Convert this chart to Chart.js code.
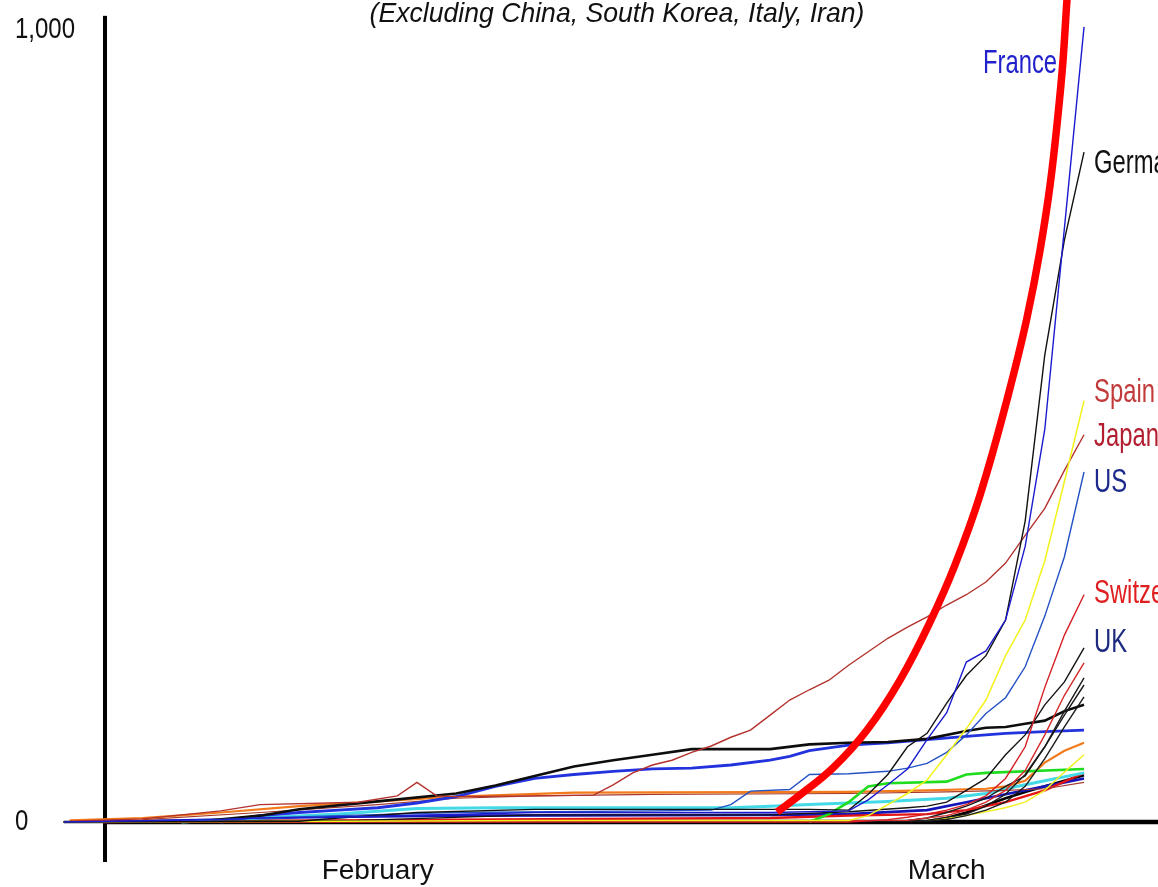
<!DOCTYPE html>
<html><head><meta charset="utf-8">
<script src="https://cdn.jsdelivr.net/npm/chart.js@4.4.1/dist/chart.umd.min.js"></script>
<style>html,body{margin:0;padding:0;background:#fff;}canvas{display:block;}</style>
</head><body>
<canvas id="c" width="1158" height="887"></canvas>
<script>
// x values are days counted from 16 Jan 2020 (day 0)
const xTickDays = [16, 45];
const xTickLabels = ['February', 'March'];
const yTickValues = [0, 1000];
const yTickLabels = ['0', '1,000'];
const chartTitle = '(Excluding China, South Korea, Italy, Iran)';

// series: [day, confirmed cases]
const france = [[0,0],[8,3],[10,5],[14,6],[24,12],[36,12],[38,13],[40,14],[41,28],[42,47],[43,67],[44,104],[45,138],[46,202],[47,216],[48,255],[49,348],[50,496],[51,750],[52,1004]];
const germany = [[0,0],[12,1],[14,5],[18,12],[24,16],[38,16],[40,15],[41,35],[42,60],[43,95],[44,112],[45,150],[46,185],[47,210],[48,255],[49,380],[50,590],[51,735],[52,846]];
const spain = [[0,0],[14,1],[24,2],[40,2],[41,8],[42,22],[43,36],[44,53],[45,85],[46,118],[47,154],[48,210],[49,255],[50,330],[51,430],[52,532]];
const japan = [[0.3,1],[4,4],[8,14],[10,22],[15,25],[17,33],[18,50],[19,33],[20,32],[24,33],[27,34],[28,47],[29,62],[30,72],[31,78],[32,88],[33,96],[34,107],[35,116],[36,135],[37,154],[38,167],[39,179],[40,198],[41,215],[42,232],[43,246],[44,259],[45,274],[46,287],[47,303],[48,327],[49,362],[50,396],[51,444],[52,489]];
const us = [[0,0],[6,1],[10,5],[14,8],[20,12],[30,14],[33,15],[34,22],[35,39],[37,41],[38,60],[40,61],[42,64],[43,68],[44,74],[45,88],[46,110],[47,137],[48,157],[49,196],[50,260],[51,335],[52,442]];
const switzerland = [[0,0],[40,0],[42,3],[43,6],[44,10],[45,15],[46,22],[47,33],[48,55],[49,95],[50,170],[51,236],[52,287]];
const uk = [[0,0],[15,2],[24,9],[36,9],[40,13],[43,18],[44,20],[45,25],[46,40],[47,55],[48,85],[49,110],[50,148],[51,177],[52,220]];
const singapore = [[7,1],[10,8],[12,16],[16,26],[20,36],[22,46],[24,58],[26,70],[28,78],[30,85],[32,92],[36,92],[38,98],[40,100],[42,101],[44,105],[46,115],[47,119],[48,120],[49,124],[50,128],[51,140],[52,148]];
const hongKong = [[8,0],[10,8],[12,12],[14,15],[16,18],[18,24],[20,32],[22,45],[24,55],[26,60],[28,64],[30,67],[32,68],[34,72],[36,78],[37,83],[38,90],[40,97],[42,100],[44,104],[46,108],[48,112],[50,114],[52,116]];
const greenSeries = [[38,0],[39,10],[40,25],[41,45],[42,49],[45,51],[46,60],[47,62],[52,67]];
const cyanSeries = [[6,0],[10,5],[14,10],[18,17],[22,18],[34,18],[36,20],[38,22],[42,26],[45,30],[47,36],[48,42],[50,52],[52,62]];
const orangeSeries = [[0.3,2],[4,5],[8,12],[12,20],[20,32],[26,37],[40,38],[44,40],[47,42],[48,45],[49,52],[50,75],[51,90],[52,100]];
const brownSeries = [[4,3],[10,12],[16,22],[20,30],[24,33],[30,35],[40,36],[45,38],[48,40],[50,42],[52,50]];
const black2 = [[0,0],[44,2],[46,10],[47,20],[48,35],[49,60],[50,95],[51,140],[52,182]];
const black3 = [[0,0],[43,2],[44,5],[45,12],[46,20],[47,30],[48,45],[49,58],[50,95],[51,135],[52,173]];
const black4 = [[0,0],[44,1],[45,3],[46,8],[47,15],[48,25],[49,45],[50,80],[51,120],[52,158]];
const red2 = [[0,0],[43,2],[45,8],[46,15],[47,25],[48,40],[49,65],[50,110],[51,160],[52,201]];
const yellow2 = [[0,0],[44,2],[46,8],[48,18],[49,25],[50,40],[51,63],[52,85]];
const redBottom = [[2,0],[20,3],[36,5],[40,8],[44,10],[46,15],[48,25],[50,40],[52,62]];
const blackBottom = [[0,0],[44,1],[45,5],[46,12],[47,21],[48,30],[49,38],[50,45],[51,52],[52,59]];
const blue2 = [[2,0],[8,3],[12,6],[20,8],[36,9],[40,10],[44,15],[46,25],[48,35],[50,45],[52,55]];
const trendCurve = [[36.35,12.6],[37.52,34.1],[39.2,68.2],[40.94,116.2],[42.62,179.3],[44.15,252.5],[45.42,324.5],[46.7,412.9],[48.07,532.8],[49.09,636.4],[49.76,722.2],[50.27,804.3],[50.62,880.1],[50.93,962.1],[51.13,1037.9],[51.28,1088]];

// styles (kept apart from the values)
const seriesTable = [
  {name:'Trend', data:trendCurve, color:'#ff0000', width:7.5, smooth:true},
  {name:'France', data:france, color:'#1b1bd0', width:1.4},
  {name:'Germany', data:germany, color:'#111111', width:1.4},
  {name:'Spain', data:spain, color:'#f2f21c', width:1.5},
  {name:'Japan', data:japan, color:'#b3322e', width:1.4},
  {name:'US', data:us, color:'#2452c4', width:1.4},
  {name:'Switzerland', data:switzerland, color:'#d61e24', width:1.4},
  {name:'UK', data:uk, color:'#141414', width:1.4},
  {name:'Other 1', data:red2, color:'#d42a2a', width:1.4},
  {name:'Other 2', data:black2, color:'#1a1a1a', width:1.4},
  {name:'Other 3', data:black3, color:'#1a1a1a', width:1.4},
  {name:'Other 4', data:black4, color:'#1a1a1a', width:1.4},
  {name:'Other 5', data:yellow2, color:'#f0f020', width:1.4},
  {name:'Singapore', data:singapore, color:'#0d0d0d', width:2.6},
  {name:'Hong Kong', data:hongKong, color:'#2233dd', width:2.8},
  {name:'Other 6', data:greenSeries, color:'#1fdc1f', width:2.6},
  {name:'Other 7', data:orangeSeries, color:'#f27a1a', width:2.2},
  {name:'Other 8', data:brownSeries, color:'#a53a2c', width:1.2},
  {name:'Other 9', data:cyanSeries, color:'#44d9e6', width:3},
  {name:'Other 10', data:redBottom, color:'#e31414', width:2.4},
  {name:'Other 11', data:blue2, color:'#1414b8', width:2.6},
  {name:'Other 12', data:blackBottom, color:'#000000', width:2.6}
];

const labelStyle = {
  France: {color:'#2222cc', dx:-101, dy:46},
  Germany: {color:'#111111', dx:10, dy:21},
  Spain: {color:'#c23a3a', dx:10, dy:1},
  Japan: {color:'#b21e30', dx:10, dy:11},
  US: {color:'#1c2a8c', dx:10, dy:20},
  Switzerland: {color:'#e02020', dx:10, dy:8},
  UK: {color:'#1c2a80', dx:10, dy:4}
};
const layoutStyle = {xMin: 2.1, xMax: 55.77, yMax: 1038, axisTopValue: 1018, axisBottomExtra: 40, yLabelX: 15};

const decor = {
  id: 'decor',
  beforeDatasetsDraw(chart) {
    const ctx = chart.ctx, ys = chart.scales.y;
    const ax = chart.chartArea.left;
    const y0 = ys.getPixelForValue(0);
    const yt = ys.getPixelForValue(layoutStyle.axisTopValue);
    ctx.save();
    ctx.fillStyle = '#000';
    ctx.fillRect(ax - 2, yt, 4, y0 + layoutStyle.axisBottomExtra - yt);
    ctx.fillRect(ax - 2, y0 - 2.25, chart.width - ax + 2, 4.5);
    // y tick labels (condensed)
    ctx.font = '30px "Liberation Sans", Arial, sans-serif';
    ctx.fillStyle = '#111';
    ctx.textAlign = 'left';
    ctx.textBaseline = 'middle';
    yTickValues.forEach((v, i) => {
      ctx.save();
      ctx.translate(layoutStyle.yLabelX, ys.getPixelForValue(v));
      ctx.scale(0.8, 1);
      ctx.fillText(yTickLabels[i], 0, 0);
      ctx.restore();
    });
    ctx.restore();
  },
  afterDatasetsDraw(chart) {
    const ctx = chart.ctx, xs = chart.scales.x, ys = chart.scales.y;
    ctx.save();
    ctx.font = '34px "Liberation Sans", Arial, sans-serif';
    ctx.textBaseline = 'alphabetic';
    seriesTable.forEach(s => {
      const st = labelStyle[s.name];
      if (!st) return;
      const last = s.data[s.data.length - 1];
      const px = xs.getPixelForValue(last[0]) + st.dx;
      const py = ys.getPixelForValue(last[1]) + st.dy;
      ctx.save();
      ctx.translate(px, py);
      ctx.scale(0.7, 1);
      ctx.fillStyle = st.color;
      ctx.fillText(s.name, 0, 0);
      ctx.restore();
    });
    ctx.restore();
  },
  afterDraw(chart) {
    const ctx = chart.ctx;
    ctx.save();
    ctx.font = 'italic 28px "Liberation Sans", Arial, sans-serif';
    ctx.fillStyle = '#111';
    ctx.textAlign = 'center';
    ctx.textBaseline = 'alphabetic';
    ctx.translate(617, 22);
    ctx.scale(0.95, 1);
    ctx.fillText(chartTitle, 0, 0);
    ctx.restore();
  }
};

new Chart(document.getElementById('c'), {
  type: 'line',
  data: {
    datasets: seriesTable.map(s => ({
      label: s.name,
      data: s.data.map(p => ({x: p[0], y: p[1]})),
      borderColor: s.color,
      borderWidth: s.width,
      pointRadius: 0,
      fill: false,
      tension: 0,
      cubicInterpolationMode: s.smooth ? 'monotone' : 'default',
      borderCapStyle: 'butt',
      clip: false
    }))
  },
  options: {
    responsive: false,
    animation: false,
    devicePixelRatio: 1,
    layout: {padding: {left: 15, right: 0, top: 0, bottom: 0}},
    plugins: {legend: {display: false}, tooltip: {enabled: false}, title: {display: false}},
    scales: {
      x: {
        type: 'linear', bounds: 'data',
        grid: {display: false, drawTicks: false},
        border: {display: false},
        afterDataLimits: sc => { sc.min = layoutStyle.xMin; sc.max = layoutStyle.xMax; },
        afterBuildTicks: sc => { sc.ticks = xTickDays.map(v => ({value: v})); },
        afterFit: sc => { sc.height = 65; sc.paddingLeft = 0; sc.paddingRight = 0; },
        ticks: {
          autoSkip: false, maxRotation: 0, padding: 32, color: '#111',
          font: {family: '"Liberation Sans", Arial, sans-serif', size: 28},
          callback: (v, i) => xTickLabels[i]
        }
      },
      y: {
        type: 'linear', min: 0, max: layoutStyle.yMax,
        grid: {display: false, drawTicks: false},
        border: {display: false},
        afterBuildTicks: sc => { sc.ticks = yTickValues.map(v => ({value: v})); },
        afterFit: sc => { sc.width = 90; sc.paddingTop = 0; sc.paddingBottom = 0; },
        ticks: {display: false}
      }
    }
  },
  plugins: [decor]
});
</script>
</body></html>
